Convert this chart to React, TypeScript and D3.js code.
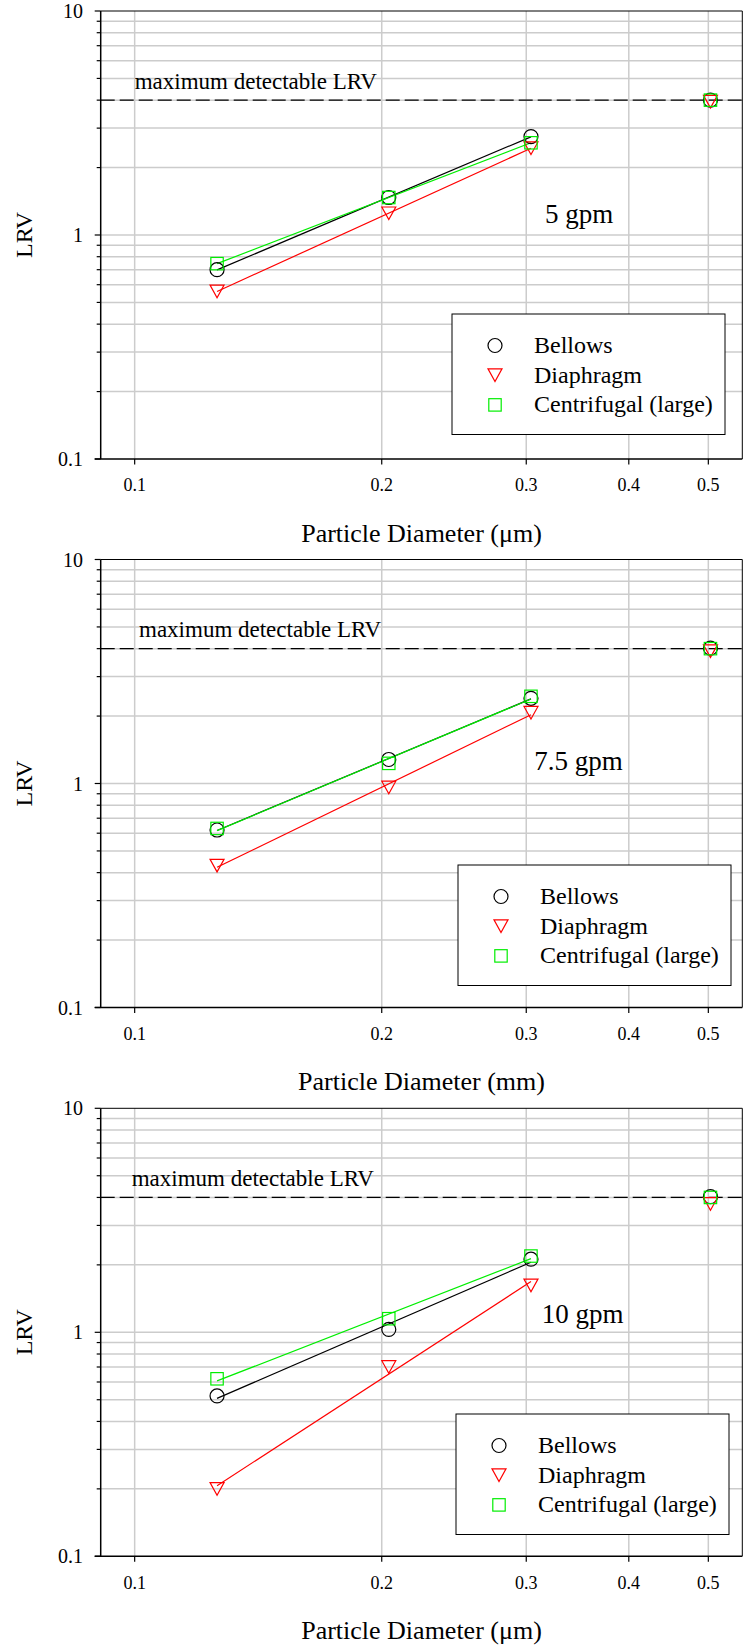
import React from 'react'
import * as d3 from 'd3'

// particle diameters of the four challenge sizes
const diameters = [0.126, 0.204, 0.304, 0.503]
const flowRates = ['5 gpm', '7.5 gpm', '10 gpm']
const xAxisTitles = ['Particle Diameter (μm)', 'Particle Diameter (mm)', 'Particle Diameter (μm)']
const seriesNames = ['Bellows', 'Diaphragm', 'Centrifugal (large)']
const xTickValues = [0.1, 0.2, 0.3, 0.4, 0.5]
const yTickLabels = [0.1, 1, 10]
const maxDetectableLRV = 4

// LRV, one row per flow rate
const bellows = [
	[0.7, 1.47, 2.75, 4.0],
	[0.62, 1.28, 2.4, 4.02],
	[0.52, 1.03, 2.12, 4.03],
]
const diaphragm = [
	[0.56, 1.25, 2.44, 3.94],
	[0.43, 0.96, 2.07, 3.9],
	[0.2, 0.7, 1.62, 3.74],
]
const centrifugal = [
	[0.745, 1.47, 2.58, 4.0],
	[0.63, 1.23, 2.45, 4.0],
	[0.62, 1.15, 2.19, 4.0],
]

const font = '"Liberation Serif", "Times New Roman", serif'
const colors = ['#000000', '#ff0000', '#00ee00']
const plotLeft = 100.7
const plotRight = 742.3
const plotHeight = 448
const panelTops = [11, 559.5, 1108.3]
const legendPos = [
	[452, 303],
	[458, 305.5],
	[456, 305.7],
]
const gpmPos = [
	[545, 212],
	[534.3, 210],
	[541.7, 215],
]
const maxLabelX = [134.7, 139, 131.7]

const Marker = ({ kind, cx, cy }: { kind: number; cx: number; cy: number }) => {
	if (kind === 0)
		return <circle cx={cx} cy={cy} r={7} fill="none" stroke={colors[0]} strokeWidth={1.2} />
	if (kind === 1)
		return (
			<path
				d={`M${cx - 7},${cy - 6.3}L${cx + 7},${cy - 6.3}L${cx},${cy + 6.3}Z`}
				fill="none"
				stroke={colors[1]}
				strokeWidth={1.2}
			/>
		)
	return (
		<rect x={cx - 6.2} y={cy - 6.2} width={12.4} height={12.4} fill="none" stroke={colors[2]} strokeWidth={1.2} />
	)
}

// straight fit in log-log space through the first three sizes
const fitLine = (vals: number[]) => {
	const pts = diameters.slice(0, 3).map((d, i) => [Math.log10(d), Math.log10(vals[i])])
	const mx = d3.mean(pts, (p) => p[0])!
	const my = d3.mean(pts, (p) => p[1])!
	const slope = d3.sum(pts, (p) => (p[0] - mx) * (p[1] - my)) / d3.sum(pts, (p) => (p[0] - mx) ** 2)
	return [pts[0][0], pts[2][0]].map((lx) => [10 ** lx, 10 ** (my + slope * (lx - mx))])
}

const Panel = ({ idx }: { idx: number }) => {
	const top = panelTops[idx]
	const bottom = top + plotHeight
	const x = d3.scaleLog().domain([0.1 / 1.1, 0.55]).range([plotLeft, plotRight])
	const y = d3.scaleLog().domain([0.1, 10]).range([bottom, top])
	const yTicks = y.ticks()
	const series = [bellows[idx], diaphragm[idx], centrifugal[idx]]
	const line = d3
		.line<number[]>()
		.x((d) => x(d[0]))
		.y((d) => y(d[1]))
	const [lx, ly] = legendPos[idx]
	const [gx, gy] = gpmPos[idx]

	return (
		<g fontFamily={font}>
			{/* grid */}
			{yTicks
				.filter((v) => v > 0.1 && v < 10)
				.map((v) => (
					<line key={'h' + v} x1={plotLeft} x2={plotRight} y1={y(v)} y2={y(v)} stroke="#cccccc" strokeWidth={1.5} />
				))}
			{xTickValues.map((v) => (
				<line key={'v' + v} x1={x(v)} x2={x(v)} y1={top} y2={bottom} stroke="#cccccc" strokeWidth={1.5} />
			))}

			{/* frame */}
			<line x1={plotLeft} x2={plotRight} y1={top} y2={top} stroke="#000" strokeWidth={1} />
			<line x1={plotRight} x2={plotRight} y1={top} y2={bottom} stroke="#000" strokeWidth={1} />

			{/* max detectable */}
			<line
				x1={plotLeft}
				x2={plotRight}
				y1={y(maxDetectableLRV)}
				y2={y(maxDetectableLRV)}
				stroke="#000"
				strokeWidth={1.2}
				strokeDasharray="14 5"
			/>
			<text x={maxLabelX[idx]} y={top + 77.5} fontSize={23}>
				maximum detectable LRV
			</text>

			{/* fitted lines */}
			{series.map((vals, i) => (
				<path key={'l' + i} d={line(fitLine(vals))!} fill="none" stroke={colors[i]} strokeWidth={1.2} />
			))}

			{/* markers */}
			{series.map((vals, i) =>
				vals.map((v, j) => <Marker key={'m' + i + '-' + j} kind={i} cx={x(diameters[j])} cy={y(v)} />)
			)}

			<text x={gx} y={top + gy} fontSize={27}>
				{flowRates[idx]}
			</text>

			{/* axes */}
			<line x1={plotLeft} x2={plotLeft} y1={top} y2={bottom} stroke="#000" strokeWidth={1.5} />
			<line x1={plotLeft - 6} x2={plotRight} y1={bottom} y2={bottom} stroke="#000" strokeWidth={1.5} />
			{yTicks.map((v) => {
				const major = yTickLabels.includes(v)
				return (
					<line
						key={'yt' + v}
						x1={plotLeft - (major ? 6 : 4)}
						x2={plotLeft}
						y1={y(v)}
						y2={y(v)}
						stroke="#000"
						strokeWidth={1.2}
					/>
				)
			})}
			{yTickLabels.map((v) => (
				<text key={'yl' + v} x={83} y={y(v) + 7} fontSize={20} textAnchor="end">
					{v}
				</text>
			))}
			{xTickValues.map((v) => (
				<g key={'xt' + v}>
					<line x1={x(v)} x2={x(v)} y1={bottom} y2={bottom + 5.5} stroke="#000" strokeWidth={1.2} />
					<text x={x(v)} y={bottom + 32.4} fontSize={18} textAnchor="middle">
						{v}
					</text>
				</g>
			))}
			<text
				transform={`translate(${31.5},${(top + bottom) / 2}) rotate(-90)`}
				fontSize={24}
				textAnchor="middle"
			>
				LRV
			</text>
			<text x={(plotLeft + plotRight) / 2} y={top + 530.7} fontSize={26} textAnchor="middle">
				{xAxisTitles[idx]}
			</text>

			{/* legend */}
			<rect x={lx} y={top + ly} width={273} height={120.5} fill="#fff" stroke="#000" strokeWidth={1} />
			{seriesNames.map((name, i) => (
				<g key={'lg' + i}>
					<Marker kind={i} cx={lx + 43} cy={top + ly + 31.5 + i * 29.7} />
					<text x={lx + 82} y={top + ly + 39 + i * 29.7} fontSize={24}>
						{name}
					</text>
				</g>
			))}
		</g>
	)
}

const App = () => {
	return (
		<svg
			width={747}
			height={1652}
			style={{ position: 'absolute', left: 0, top: 0, background: '#fff' }}
		>
			{flowRates.map((_, i) => (
				<Panel key={i} idx={i} />
			))}
		</svg>
	)
}

export default App
